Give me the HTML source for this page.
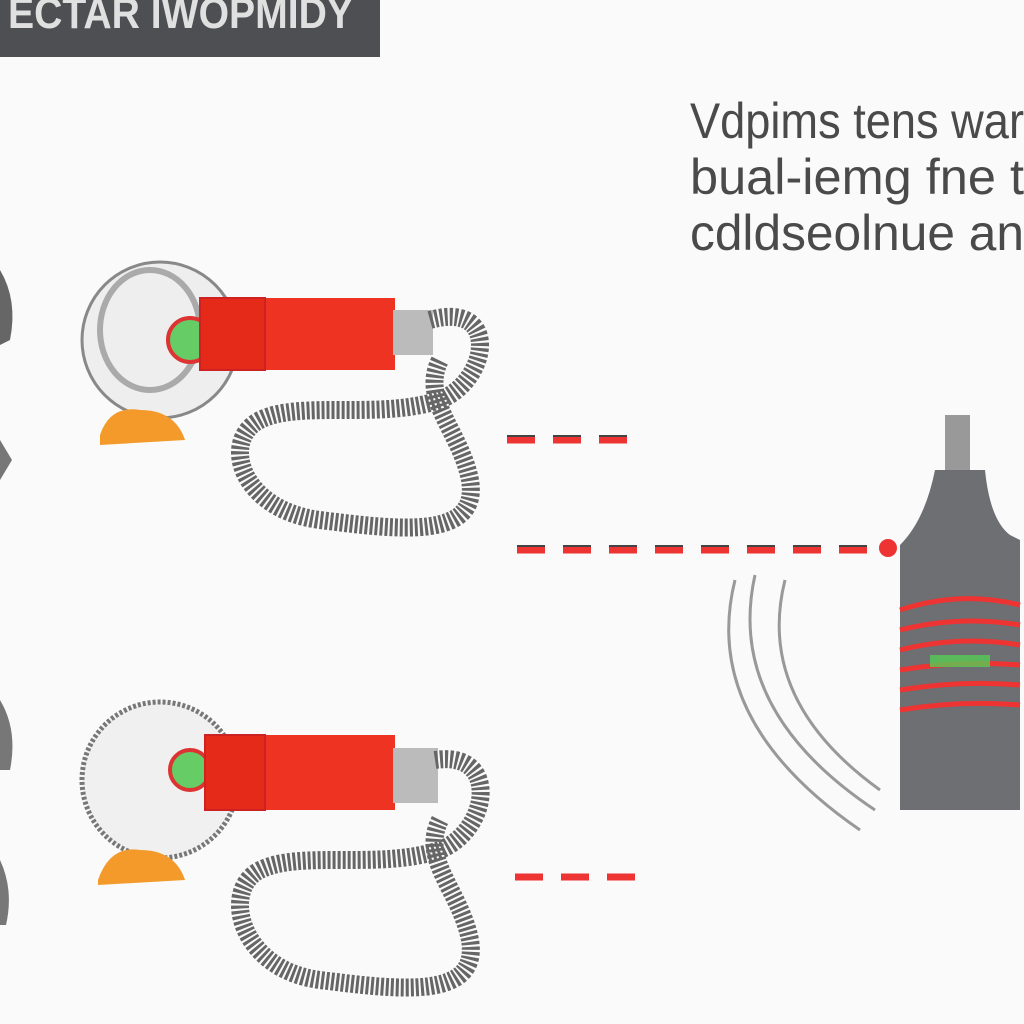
<!DOCTYPE html>
<html><head><meta charset="utf-8"><style>
html,body{margin:0;padding:0;background:#fafafa;}
svg{display:block}
text{font-family:"Liberation Sans",sans-serif}
</style></head><body>
<svg width="1024" height="1024" viewBox="0 0 1024 1024" xmlns="http://www.w3.org/2000/svg">
<rect width="1024" height="1024" fill="#fafafa"/>
<rect x="0" y="0" width="380" height="57" fill="#4e4f52"/>
<text x="8" y="28" font-size="44" fill="#e0e0e0" font-family="Liberation Serif" font-weight="bold" textLength="345" lengthAdjust="spacingAndGlyphs">ECTAR IWOPMIDY</text>
<g fill="#4a4a4a" font-size="50">
<text x="690" y="138" textLength="334" lengthAdjust="spacingAndGlyphs">Vdpims tens war</text>
<text x="690" y="194" textLength="334" lengthAdjust="spacingAndGlyphs">bual-iemg fne t</text>
<text x="690" y="250" textLength="334" lengthAdjust="spacingAndGlyphs">cdldseolnue an</text>
</g>
<path d="M0 270 Q18 300 10 340 L0 345Z" fill="#666"/>
<path d="M0 440 L12 460 L0 480Z" fill="#777"/>
<path d="M0 700 Q18 730 10 770 L0 770Z" fill="#777"/>
<path d="M0 860 Q14 890 6 925 L0 925Z" fill="#777"/>

<g>
<ellipse cx="160" cy="340" rx="78" ry="78" fill="#eee" stroke="#888" stroke-width="3"/>
<ellipse cx="150" cy="330" rx="50" ry="60" fill="none" stroke="#aaa" stroke-width="6"/>
<circle cx="190" cy="340" r="22" fill="#6c6" stroke="#d33" stroke-width="4"/>
<rect x="200" y="298" width="195" height="72" fill="#ee3322"/>
<rect x="200" y="298" width="65" height="72" fill="#e62a1a" stroke="#c22" stroke-width="2"/>
<rect x="393" y="310" width="40" height="45" fill="#bbb"/>
<path d="M100 435 Q110 405 140 410 Q175 410 185 440 L100 445Z" fill="#f39a2a"/>
<path d="M430 320 C500 300 490 380 440 400 C380 420 300 400 260 420 C220 440 240 510 320 520 C400 530 480 540 470 480 C460 430 420 400 440 360" fill="none" stroke="#666" stroke-width="18" stroke-dasharray="3 2"/>
</g>

<g>
<ellipse cx="160" cy="780" rx="78" ry="78" fill="#f0f0f0" stroke="#777" stroke-width="5" stroke-dasharray="3 2"/>
<circle cx="190" cy="770" r="20" fill="#6c6" stroke="#d33" stroke-width="4"/>
<rect x="205" y="735" width="190" height="75" fill="#ee3322"/>
<rect x="205" y="735" width="60" height="75" fill="#e62a1a" stroke="#c22" stroke-width="2"/>
<rect x="393" y="748" width="45" height="55" fill="#bbb"/>
<path d="M98 880 Q110 845 140 850 Q175 850 185 880 L98 885Z" fill="#f39a2a"/>
<path d="M435 760 C500 750 490 830 440 850 C380 870 300 850 260 870 C220 890 240 970 320 980 C400 990 480 1000 470 940 C460 890 420 860 440 820" fill="none" stroke="#666" stroke-width="18" stroke-dasharray="3 2"/>
</g>

<g stroke="#e33" stroke-width="7" stroke-dasharray="28 18">
<line x1="507" y1="440" x2="645" y2="440"/>
<line x1="517" y1="550" x2="880" y2="550"/>
<line x1="515" y1="877" x2="652" y2="877"/>
</g>
<g stroke="#444" stroke-width="2" stroke-dasharray="28 18" fill="none">
<line x1="507" y1="436" x2="645" y2="436"/>
<line x1="517" y1="546" x2="880" y2="546"/>
</g>
<circle cx="888" cy="548" r="9" fill="#e33"/>

<g fill="none" stroke="#999" stroke-width="3">
<path d="M735 580 Q700 720 860 830"/>
<path d="M755 575 Q725 710 875 810"/>
<path d="M785 580 Q755 700 880 790"/>
</g>

<rect x="945" y="415" width="25" height="60" fill="#999"/>
<path d="M935 470 L985 470 Q990 520 1010 535 L1020 540 L1020 810 L900 810 L900 545 Q925 520 935 470Z" fill="#6e6f72"/>
<g fill="none" stroke="#e33" stroke-width="5">
<path d="M900 610 Q960 590 1020 605"/>
<path d="M900 630 Q960 615 1020 625"/>
<path d="M900 650 Q960 635 1020 645"/>
<path d="M900 670 Q960 660 1020 665"/>
<path d="M900 690 Q960 680 1020 685"/>
<path d="M900 710 Q960 700 1020 705"/>
</g>
<rect x="930" y="655" width="60" height="12" fill="#5c5" opacity="0.8"/>
</svg>
</body></html>
